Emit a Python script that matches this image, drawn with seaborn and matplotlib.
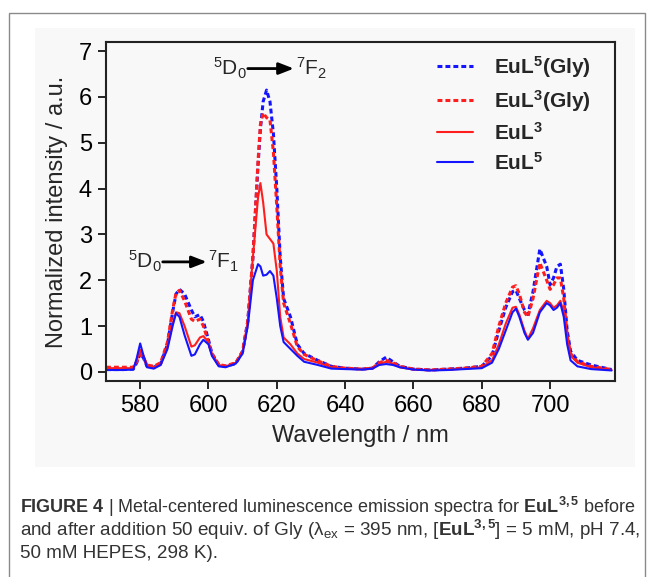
import numpy as np
import seaborn as sns
import matplotlib.pyplot as plt
import pandas as pd
from matplotlib.patches import Rectangle

# wavelength grid (nm) and normalized intensities
wavelength = [570, 575, 578, 579, 580, 581, 582, 584, 586, 588, 589.5, 590.5,
              591.5, 593, 595, 596, 597.5, 598.5, 600, 601, 603, 605, 608, 610,
              611.5, 613, 614.5, 615.2, 616, 617, 618, 619, 620, 621, 622, 624,
              626, 628, 632, 636, 640, 645, 648, 650, 652, 654, 656, 660, 665,
              670, 675, 680, 683, 685, 687, 689, 690, 691, 692.5, 693.5, 695,
              697, 699, 700, 701, 702, 703, 704, 705, 706, 708, 712, 718]

eul5_gly = [0.05, 0.05, 0.06, 0.2, 0.4, 0.3, 0.12, 0.1, 0.18, 0.6, 1.3, 1.7,
            1.8, 1.7, 1.35, 1.2, 1.25, 1.1, 0.7, 0.4, 0.15, 0.12, 0.18, 0.45,
            1.1, 2.5, 4.5, 5.3, 5.9, 6.15, 5.9, 5.2, 4.0, 2.5, 1.6, 1.2,
            0.6, 0.4, 0.25, 0.12, 0.08, 0.06, 0.08, 0.22, 0.32, 0.22, 0.12, 0.06, 0.04,
            0.06, 0.08, 0.12, 0.35, 0.9, 1.4, 1.75, 1.78, 1.6, 1.35, 1.25, 1.75,
            2.68, 2.3, 1.9, 2.05, 2.3, 2.35, 1.8, 0.9, 0.45, 0.25, 0.15, 0.05]

eul3_gly = [0.1, 0.1, 0.1, 0.22, 0.38, 0.3, 0.15, 0.12, 0.2, 0.65, 1.35, 1.72,
            1.78, 1.55, 1.15, 1.1, 1.15, 1.0, 0.65, 0.4, 0.16, 0.13, 0.2, 0.45,
            1.1, 2.5, 4.6, 5.4, 5.65, 5.55, 5.5, 4.8, 3.6, 2.3, 1.5, 1.05,
            0.55, 0.38, 0.24, 0.12, 0.08, 0.06, 0.08, 0.2, 0.25, 0.2, 0.12, 0.06, 0.04,
            0.06, 0.08, 0.12, 0.4, 1.0, 1.5, 1.85, 1.88, 1.7, 1.3, 1.2, 1.6,
            2.38, 2.0, 1.8, 1.9, 2.05, 2.05, 1.6, 0.8, 0.4, 0.22, 0.12, 0.05]

eul3 = [0.08, 0.08, 0.08, 0.25, 0.48, 0.35, 0.15, 0.1, 0.15, 0.55, 1.05, 1.3,
        1.28, 1.0, 0.55, 0.58, 0.75, 0.78, 0.65, 0.4, 0.15, 0.12, 0.2, 0.45,
        1.1, 2.5, 3.8, 4.12, 3.7, 3.0, 2.9, 2.8, 2.2, 1.2, 0.75, 0.6,
        0.4, 0.28, 0.2, 0.1, 0.07, 0.06, 0.08, 0.17, 0.22, 0.18, 0.1, 0.05, 0.04,
        0.05, 0.07, 0.1, 0.25, 0.6, 1.05, 1.4, 1.42, 1.25, 0.9, 0.72, 0.95,
        1.35, 1.55, 1.5, 1.4, 1.45, 1.55, 1.3, 0.8, 0.35, 0.2, 0.1, 0.04]

eul5 = [0.04, 0.04, 0.05, 0.3, 0.62, 0.35, 0.1, 0.07, 0.15, 0.5, 1.0, 1.28,
        1.2, 0.8, 0.35, 0.38, 0.6, 0.7, 0.6, 0.35, 0.12, 0.1, 0.18, 0.4,
        1.0, 2.0, 2.35, 2.3, 2.1, 2.12, 2.2, 2.1, 1.6, 1.0, 0.65, 0.5,
        0.35, 0.22, 0.15, 0.07, 0.06, 0.05, 0.07, 0.15, 0.17, 0.15, 0.1, 0.05, 0.03,
        0.04, 0.06, 0.08, 0.2, 0.5, 0.9, 1.3, 1.38, 1.2, 0.85, 0.7, 0.85,
        1.3, 1.5, 1.45, 1.35, 1.4, 1.5, 1.2, 0.6, 0.25, 0.12, 0.06, 0.03]

x_ticks = [580, 600, 620, 640, 660, 680, 700]
y_ticks = [0, 1, 2, 3, 4, 5, 6, 7]

sns.set_style("ticks")
plt.rcParams['font.family'] = ['Liberation Sans', 'DejaVu Sans']
plt.rcParams['mathtext.fontset'] = 'custom'
plt.rcParams['mathtext.rm'] = 'Liberation Sans'
plt.rcParams['mathtext.it'] = 'Liberation Sans:italic'
plt.rcParams['mathtext.bf'] = 'Liberation Sans:bold'

fig = plt.figure(figsize=(6.53, 5.77), dpi=100)
W, H = 653, 577

# outer frame and grey panel behind the chart
fig.patches.append(Rectangle((9 / W, -0.01), 636 / W, 1 - 13 / H + 0.01,
                             transform=fig.transFigure, fill=False,
                             edgecolor='#8a8a8a', lw=1.0, zorder=-2))
fig.patches.append(Rectangle((35 / W, 1 - 467 / H), 600 / W, 439 / H,
                             transform=fig.transFigure, facecolor='#f8f8f8',
                             edgecolor='none', zorder=-2))

ax = fig.add_axes([106 / W, 1 - 381 / H, 509 / W, 339 / H])
ax.set_facecolor('#f8f8f8')

blue = '#1414ff'
red = '#ff1e1e'
sns.lineplot(x=wavelength, y=eul5_gly, ax=ax, color=blue, lw=2.2,
             linestyle=(0, (1.6, 1.0)), label=r'$\mathbf{EuL^5(Gly)}$')
sns.lineplot(x=wavelength, y=eul3_gly, ax=ax, color=red, lw=2.2,
             linestyle=(0, (1.6, 1.0)), label=r'$\mathbf{EuL^3(Gly)}$')
sns.lineplot(x=wavelength, y=eul3, ax=ax, color=red, lw=1.5,
             label=r'$\mathbf{EuL^3}$')
sns.lineplot(x=wavelength, y=eul5, ax=ax, color=blue, lw=1.5,
             label=r'$\mathbf{EuL^5}$')

ax.set_xlim(570, 719)
ax.set_ylim(-0.2, 7.2)
ax.set_xticks(x_ticks)
ax.set_yticks(y_ticks)
ax.tick_params(direction='out', length=6, width=1.2, labelsize=17,
               colors='black', pad=4)
for s in ax.spines.values():
    s.set_visible(True)
    s.set_linewidth(1.5)
    s.set_color('#222222')
ax.set_xlabel('Wavelength / nm', fontsize=17, labelpad=6)
ax.set_ylabel('Normalized intensity / a.u.', fontsize=17, labelpad=8)

leg = ax.legend(loc='upper right', frameon=False, fontsize=15,
                handlelength=1.75, handletextpad=1.0, labelspacing=0.38,
                bbox_to_anchor=(0.99, 1.02))

# transition annotations
arrow = dict(arrowstyle='-|>,head_length=0.9,head_width=0.35', lw=2,
             color='black', shrinkA=0, shrinkB=0)
ax.text(611.3, 6.62, r'$^5$D$_0$', fontsize=15, ha='right', va='center')
ax.annotate('', xy=(625, 6.62), xytext=(611.5, 6.62), arrowprops=arrow)
ax.text(625.6, 6.62, r'$^7$F$_2$', fontsize=15, ha='left', va='center')
ax.text(586.4, 2.4, r'$^5$D$_0$', fontsize=15, ha='right', va='center')
ax.annotate('', xy=(599.5, 2.4), xytext=(586.6, 2.4), arrowprops=arrow)
ax.text(600.0, 2.4, r'$^7$F$_1$', fontsize=15, ha='left', va='center')

# caption
cap = [r'$\mathbf{FIGURE\ 4}$ | Metal-centered luminescence emission spectra for $\mathbf{EuL^{3,5}}$ before',
       r'and after addition 50 equiv. of Gly (λ$_{\mathrm{ex}}$ = 395 nm, [$\mathbf{EuL^{3,5}}$] = 5 mM, pH 7.4,',
       r'50 mM HEPES, 298 K).']
cap_size = [13.0, 13.6, 13.6]
for i, line in enumerate(cap):
    fig.text(20 / W, 1 - (507 + 23 * i) / H, line, fontsize=cap_size[i],
             color='#333333', va='center', ha='left')

fig.savefig('out.png', dpi=100)
